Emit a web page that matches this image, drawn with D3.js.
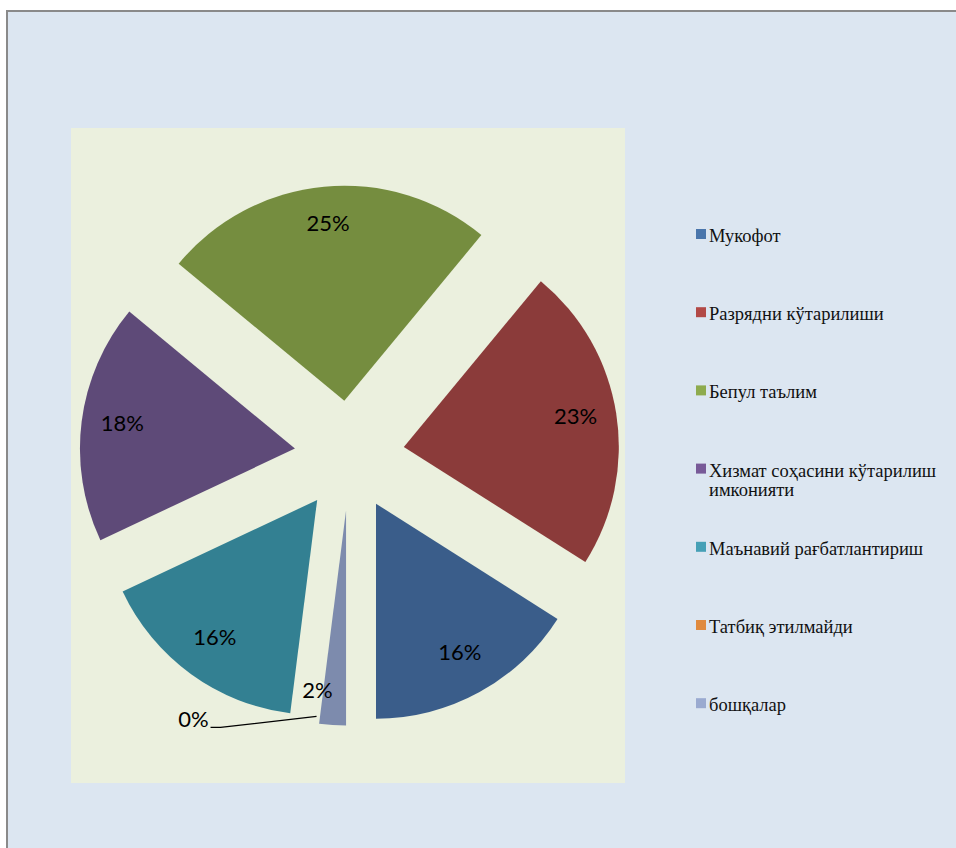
<!DOCTYPE html>
<html>
<head>
<meta charset="utf-8">
<script src="https://cdn.jsdelivr.net/npm/d3@7"></script>
<style>
  html, body { margin: 0; padding: 0; background: #ffffff; }
  svg { display: block; }
</style>
</head>
<body>
<svg id="chart" width="956" height="848"></svg>
<script>
// Survey shares (percent) of motivation types
const categories = [
  "Мукофот",
  "Разрядни кўтарилиши",
  "Бепул таълим",
  "Хизмат соҳасини кўтарилиш имконияти",
  "Маънавий рағбатлантириш",
  "Татбиқ этилмайди",
  "бошқалар"
];
const values = [16, 23, 25, 18, 16, 0, 2];

// Slice fills and lighter legend swatches
const sliceColors  = ["#3a5d8a", "#8b3b3a", "#758d3f", "#5e4a78", "#338092", "#d9792f", "#7d8bad"];
const legendColors = ["#4a76ac", "#b24946", "#8eab4e", "#785a98", "#46a0b6", "#e08a3e", "#9aaad0"];

const serifFont = '"Liberation Serif"';
const labelFont = '"Lato"';

const svg = d3.select("#chart");
const W = 956, H = 848;

// chart area (extends past the right and bottom edge of the view)
svg.append("rect")
  .attr("x", 0).attr("y", 0).attr("width", W).attr("height", H)
  .attr("fill", "#ffffff");
svg.append("rect")
  .attr("x", 7).attr("y", 11).attr("width", W + 20).attr("height", H + 20)
  .attr("fill", "#dce6f1")
  .attr("stroke", "#8a8a8a").attr("stroke-width", 2);

// plot area
const plot = { x: 71, y: 128, w: 554, h: 655 };
svg.append("rect")
  .attr("x", plot.x).attr("y", plot.y).attr("width", plot.w).attr("height", plot.h)
  .attr("fill", "#ebf0de");

const cx = 349.5, cy = 455.5, radius = 215, explode = 55;
const fmt = v => v + "%";

const pie = d3.pie().sort(null).value(d => d.value)
  .startAngle(Math.PI).endAngle(-Math.PI);
const arc = d3.arc().innerRadius(0).outerRadius(radius);

const data = categories.map((c, i) => ({ name: c, value: values[i], i }));
const arcs = pie(data);

const mid = a => (a.startAngle + a.endAngle) / 2;
const offset = (a, dist) => [Math.sin(mid(a)) * dist, -Math.cos(mid(a)) * dist];

const g = svg.append("g").attr("transform", `translate(${cx},${cy})`);

const slices = g.selectAll("g.slice").data(arcs).join("g")
  .attr("class", "slice")
  .attr("transform", a => {
    const [dx, dy] = offset(a, explode);
    return `translate(${dx},${dy})`;
  });

slices.filter(a => a.data.value > 0)
  .append("path")
  .attr("d", arc)
  .attr("fill", a => sliceColors[a.data.i]);

const pctText = sel => sel
  .style("font-family", labelFont)
  .style("font-size", "22px")
  .style("fill", "#000");

// labels for regular slices sit inside, near the rim
slices.filter(a => a.data.value >= 5)
  .append("text")
  .call(pctText)
  .attr("x", a => offset(a, 174)[0])
  .attr("y", a => offset(a, 174)[1])
  .attr("dy", "0.18em")
  .attr("text-anchor", "middle")
  .text(a => fmt(a.data.value));

// small slice: label placed just outside its left edge
slices.filter(a => a.data.value > 0 && a.data.value < 5)
  .append("text")
  .call(pctText)
  .attr("x", a => offset(a, 180)[0] - 2)
  .attr("y", a => offset(a, 180)[1])
  .attr("dy", "0.36em")
  .attr("text-anchor", "end")
  .text(a => fmt(a.data.value));

// empty slice: leader line to a label on the left
slices.filter(a => a.data.value === 0).each(function(a) {
  const s = d3.select(this);
  const [sx, sy] = offset(a, 208);
  const ex = sx - 96, ey = sy + 11;
  s.append("path")
    .attr("d", d3.line()([[sx, sy], [ex, ey], [ex - 10, ey]]))
    .attr("fill", "none")
    .attr("stroke", "#000")
    .attr("stroke-width", 1.2);
  s.append("text")
    .call(pctText)
    .attr("x", ex - 12)
    .attr("y", ey)
    .attr("text-anchor", "end")
    .text(fmt(a.data.value));
});

// legend
const legend = svg.append("g").attr("transform", "translate(696,242)");
const step = 78.2, maxW = 236, lineH = 19;
categories.forEach((c, i) => {
  const item = legend.append("g").attr("transform", `translate(0,${i * step})`);
  item.append("rect")
    .attr("x", 0).attr("y", -13).attr("width", 10).attr("height", 10)
    .attr("fill", legendColors[i]);
  const t = item.append("text").attr("x", 13).attr("y", 0)
    .style("font-family", serifFont)
    .style("font-size", "18.5px")
    .style("fill", "#111");
  // wrap long names onto extra lines
  const words = c.split(" ");
  let line = [], lineNo = 0;
  let ts = t.append("tspan").attr("x", 13).attr("y", 0);
  words.forEach(w => {
    line.push(w);
    ts.text(line.join(" "));
    if (ts.node().getComputedTextLength() > maxW && line.length > 1) {
      line.pop();
      ts.text(line.join(" "));
      line = [w];
      lineNo++;
      ts = t.append("tspan").attr("x", 13).attr("y", lineNo * lineH).text(w);
    }
  });
});
</script>
</body>
</html>
